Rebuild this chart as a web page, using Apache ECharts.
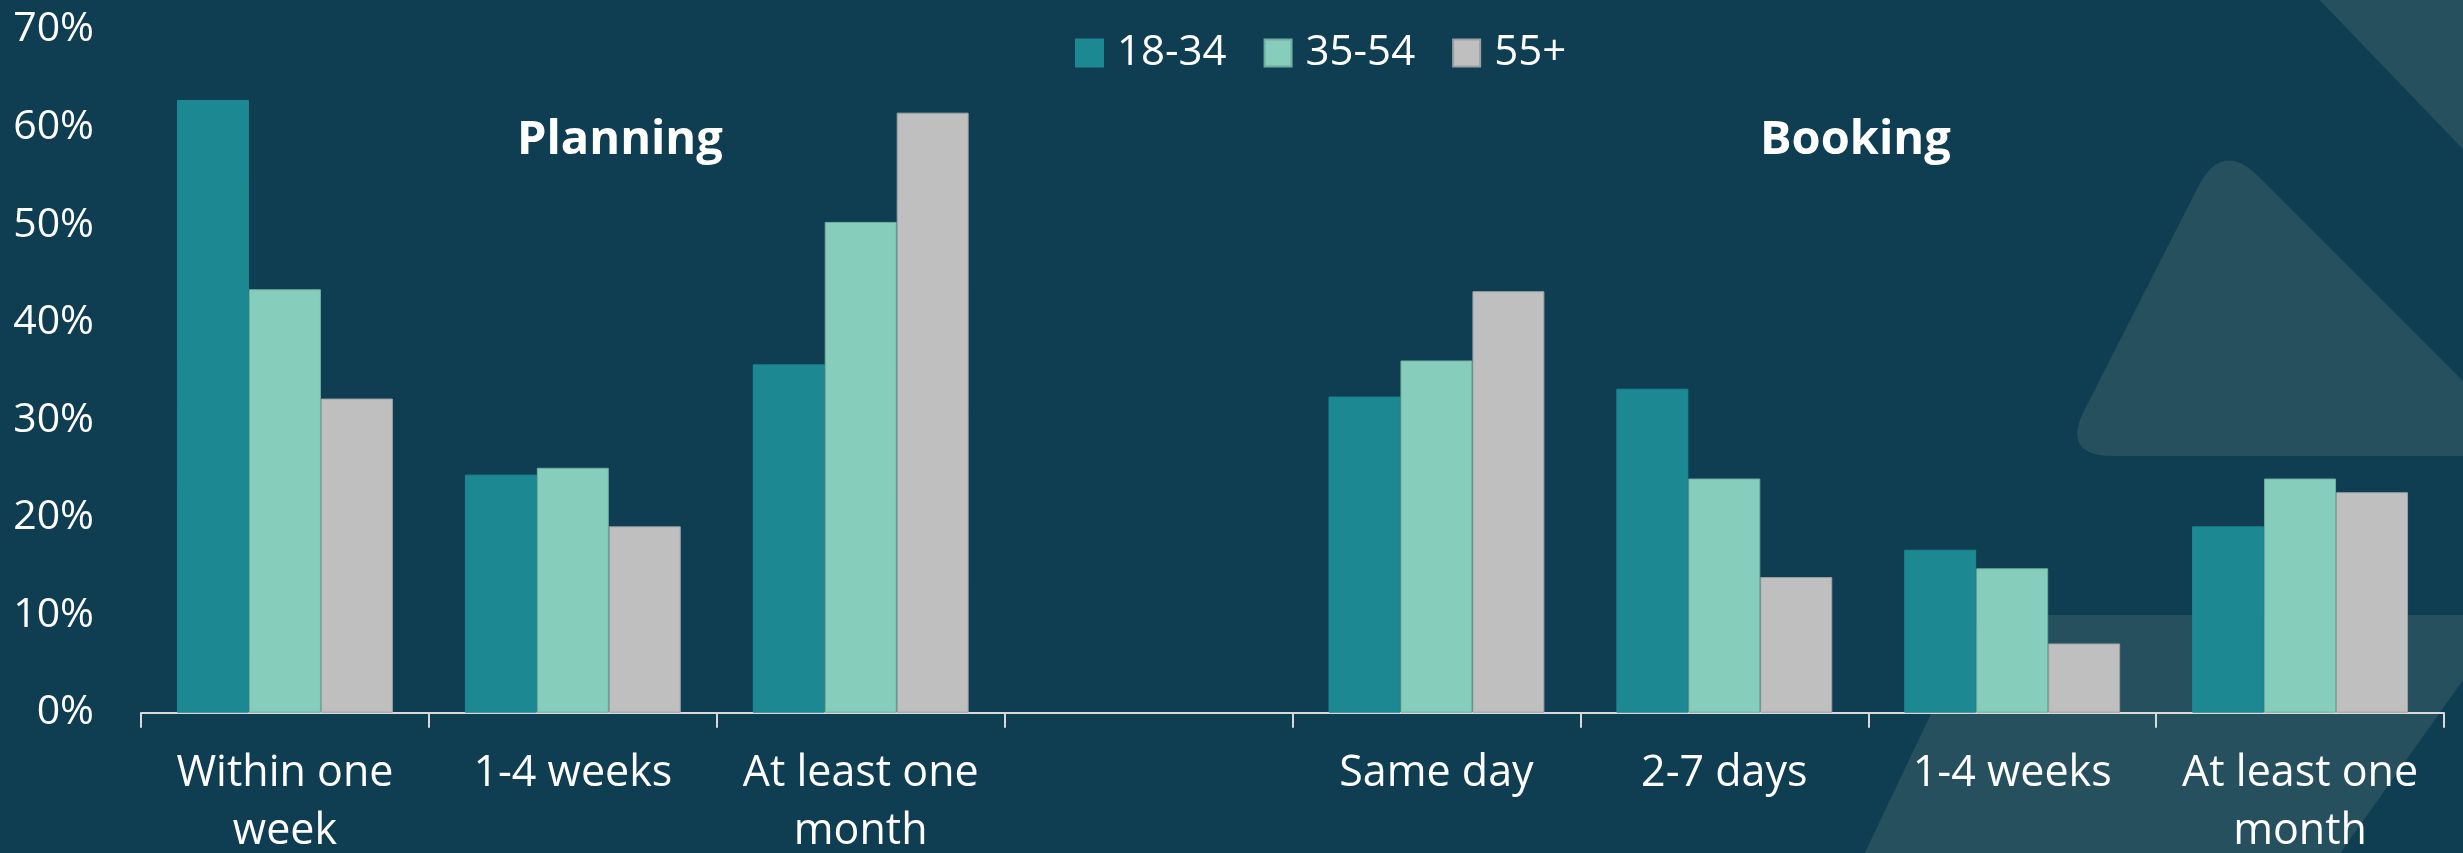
<!DOCTYPE html>
<html>
<head>
<meta charset="utf-8">
<script src="https://cdn.jsdelivr.net/npm/echarts@6/dist/echarts.min.js"></script>
<style>
  html, body { margin: 0; padding: 0; background: #0f3d52; }
  #chart { width: 2463px; height: 853px; }
</style>
</head>
<body>
<div id="chart"></div>
<script>
// Time horizons, grouped as planning (first three) and booking (last four),
// with an empty slot separating the two groups.
const categories = [
  'Within one\nweek', '1-4 weeks', 'At least one\nmonth', '',
  'Same day', '2-7 days', '1-4 weeks', 'At least one\nmonth'
];
const ageGroups = ['18-34', '35-54', '55+'];

// Share of respondents (%) per age group
const age18to34 = [62.8, 24.4, 35.7, null, 32.4, 33.2, 16.7, 19.1];
const age35to54 = [43.4, 25.1, 50.3, null, 36.1, 24.0, 14.8, 24.0];
const age55plus = [32.2, 19.1, 61.5, null, 43.2, 13.9, 7.1, 22.6];

const sectionTitles = ['Planning', 'Booking'];
const yMin = 0, yMax = 70, yStep = 10;

const colors = ['#1b8892', '#86cebb', '#bfbfbf'];
const borders = ['#1b8892', '#6fae9f', '#9aa1a4'];
const shapeFill = '#27505f';
const FONT = '"Open Sans", "Noto Sans", sans-serif';

// Polygon outline with rounded corners, sampled as a list of points
function roundedPolygon(pts, r) {
  const n = pts.length;
  const out = [];
  const steps = 12;
  for (let i = 0; i < n; i++) {
    const p = pts[i];
    const prev = pts[(i - 1 + n) % n];
    const next = pts[(i + 1) % n];
    const v1 = [prev[0] - p[0], prev[1] - p[1]];
    const v2 = [next[0] - p[0], next[1] - p[1]];
    const l1 = Math.hypot(v1[0], v1[1]);
    const l2 = Math.hypot(v2[0], v2[1]);
    const rr = Math.min(r, l1 / 2, l2 / 2);
    const a = [p[0] + v1[0] / l1 * rr, p[1] + v1[1] / l1 * rr];
    const b = [p[0] + v2[0] / l2 * rr, p[1] + v2[1] / l2 * rr];
    for (let s = 0; s <= steps; s++) {
      const t = s / steps;
      const u = 1 - t;
      out.push([
        u * u * a[0] + 2 * u * t * p[0] + t * t * b[0],
        u * u * a[1] + 2 * u * t * p[1] + t * t * b[1]
      ]);
    }
  }
  return out;
}

function backdrop(points, radius) {
  return {
    type: 'polygon', z: -10, silent: true,
    shape: { points: roundedPolygon(points, radius) },
    style: { fill: shapeFill }
  };
}

const chart = echarts.init(document.getElementById('chart'), null, { renderer: 'canvas' });

const seriesData = [age18to34, age35to54, age55plus];

const option = {
  backgroundColor: '#0f3d52',
  animation: false,
  textStyle: { fontFamily: FONT },
  graphic: [
    // decorative background shapes
    backdrop([[2262, -60], [2700, -60], [2700, 396]], 40),
    backdrop([[2222, 140], [2061, 456], [2538, 456]], 52),
    backdrop([[1978, 615], [2509, 615], [2305, 903], [1841, 903]], 30),
    // section headings
    {
      type: 'text', left: 620 - 103, top: 117, z: 10,
      style: { text: sectionTitles[0], fill: '#ffffff', font: 'bold 47px ' + FONT }
    },
    {
      type: 'text', left: 1858 - 98, top: 117, z: 10,
      style: { text: sectionTitles[1], fill: '#ffffff', font: 'bold 47px ' + FONT }
    }
  ],
  legend: {
    data: ageGroups,
    left: 1075,
    top: 32,
    padding: 0,
    icon: 'rect',
    itemWidth: 27,
    itemHeight: 27,
    itemGap: 37,
    textStyle: { color: '#ffffff', fontSize: 42, fontFamily: FONT, lineHeight: 27, padding: [0, 0, 0, 9] }
  },
  grid: {
    left: 141, right: 19, top: 29.7, bottom: 140.3,
    containLabel: false, outerBoundsMode: 'none'
  },
  xAxis: {
    type: 'category',
    data: categories,
    axisLine: { lineStyle: { color: '#d9d9d9', width: 2 } },
    axisTick: { show: true, interval: 0, length: 15, lineStyle: { color: '#d9d9d9', width: 2 } },
    axisLabel: {
      interval: 0, color: '#ffffff', fontSize: 43, lineHeight: 58, margin: 32, fontFamily: FONT
    },
    splitLine: { show: false }
  },
  yAxis: {
    type: 'value',
    min: yMin, max: yMax, interval: yStep,
    axisLine: { show: false },
    axisTick: { show: false },
    splitLine: { show: false },
    axisLabel: { formatter: '{value}%', color: '#ffffff', fontSize: 41, margin: 47, fontFamily: FONT }
  },
  series: ageGroups.map((name, i) => ({
    name,
    type: 'bar',
    data: seriesData[i],
    barGap: '0%',
    barCategoryGap: '25%',
    itemStyle: { color: colors[i], borderColor: borders[i], borderWidth: 1 },
    z: 5
  }))
};

chart.setOption(option);
</script>
</body>
</html>
